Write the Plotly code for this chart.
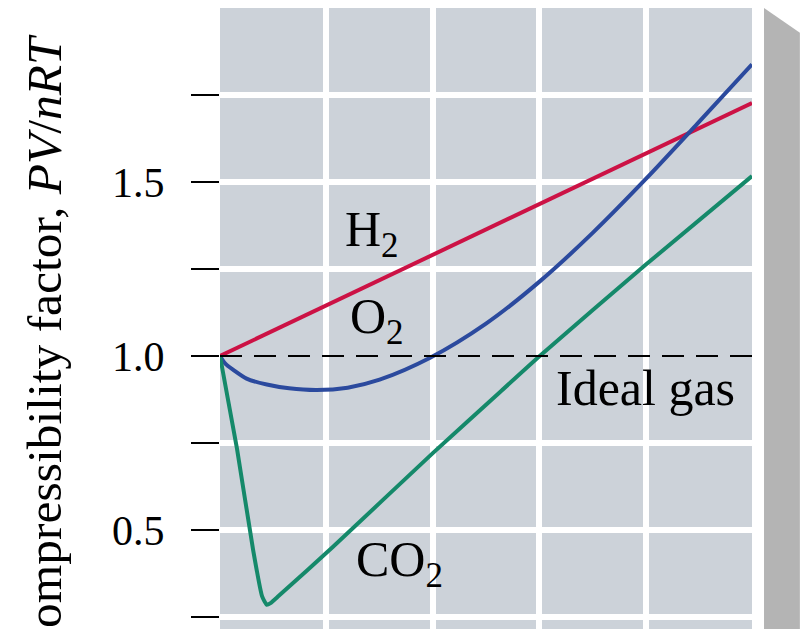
import plotly.graph_objects as go

# pressure (atm) and compressibility factor Z = PV/nRT
h2_p = [0, 200, 400, 600, 800, 1000]
h2_z = [1.0, 1.145, 1.29, 1.435, 1.58, 1.727]

o2_p = [0, 10, 25, 50, 88, 130, 182, 240, 300, 395, 500, 600, 700, 800, 900, 1000]
o2_z = [1.0, 0.978, 0.96, 0.935, 0.918, 0.907, 0.902, 0.909, 0.932, 0.995, 1.093,
        1.213, 1.353, 1.508, 1.672, 1.838]

co2_p = [0, 32, 62, 79, 88, 95, 110, 212, 400, 526, 601, 800, 1000]
co2_z = [1.0, 0.733, 0.445, 0.31, 0.285, 0.29, 0.31, 0.451, 0.721, 0.896, 1.0, 1.262, 1.517]

ideal_p = [0, 1000]
ideal_z = [1.0, 1.0]

grid_x = [200, 400, 600, 800]
grid_y = [0.25, 0.5, 0.75, 1.25, 1.5, 1.75]
tick_y = [0.25, 0.5, 0.75, 1.0, 1.25, 1.5, 1.75]
tick_text = ["", "0.5", "", "1.0", "", "1.5", ""]

labels = [
    ("H<sub>2</sub>", 286, 1.353),
    ("O<sub>2</sub>", 295, 1.103),
    ("Ideal gas", 799, 0.908),
    ("CO<sub>2</sub>", 338, 0.405),
]

serif = "Liberation Serif"
y_range = [0.2155, 2.0]

fig = go.Figure()

fig.add_trace(go.Scatter(x=h2_p, y=h2_z, mode="lines",
                         line=dict(color="#cc1245", width=4)))
fig.add_trace(go.Scatter(x=o2_p, y=o2_z, mode="lines",
                         line=dict(color="#2b4a9e", width=4, shape="spline", smoothing=0.8)))
fig.add_trace(go.Scatter(x=co2_p, y=co2_z, mode="lines",
                         line=dict(color="#15896a", width=4, shape="spline", smoothing=0.5)))
# ideal gas reference on the overlay axis (which also carries the ticks)
fig.add_trace(go.Scatter(x=ideal_p, y=ideal_z, mode="lines", yaxis="y2",
                         line=dict(color="black", width=2, dash="22px,12px")))

for text, px, pz in labels:
    fig.add_annotation(x=px, y=pz, text=text, showarrow=False,
                       font=dict(family=serif, size=50, color="black"))

# y axis title, partly cut off at the image edge as in the original
fig.add_annotation(xref="paper", yref="paper", x=-0.331, y=0.962,
                   text="Compressibility factor, <i>PV</i>/<i>nRT</i>",
                   textangle=-90, showarrow=False,
                   xanchor="center", yanchor="top",
                   font=dict(family=serif, size=49.5, color="black"))

# grey side panel of the drawing
fig.add_shape(type="path", xref="paper", yref="paper",
              path="M 1.0226 0 L 1.0226 1.0 L 1.09 0.96 L 1.09 0 Z",
              fillcolor="#b4b4b4", line=dict(width=0), layer="below")

fig.update_layout(
    width=801, height=621,
    margin=dict(l=212, r=57, t=0, b=0),
    paper_bgcolor="white",
    plot_bgcolor="#ccd2d9",
    showlegend=False,
    xaxis=dict(range=[0, 1000], tickvals=grid_x, showticklabels=False, ticks="",
               showgrid=True, gridcolor="white", gridwidth=6, zeroline=False,
               showline=False),
    yaxis=dict(range=y_range, tickvals=grid_y, showticklabels=False, ticks="",
               showgrid=True, gridcolor="white", gridwidth=6, zeroline=False,
               showline=False),
    yaxis2=dict(range=y_range, overlaying="y", side="left", tickvals=tick_y,
                ticktext=tick_text, ticks="outside", ticklen=28, tickwidth=2,
                tickcolor="black", ticklabelstandoff=18, showgrid=False,
                zeroline=False, showline=False,
                tickfont=dict(family=serif, size=42, color="black")),
)

fig.write_html("out.html")
